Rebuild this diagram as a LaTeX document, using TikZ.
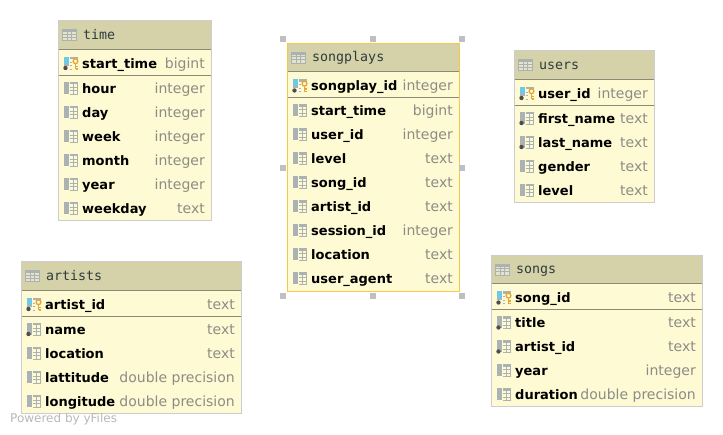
\documentclass[tikz,border=0pt]{standalone}
\usepackage{fontspec}
\setmainfont{DejaVu Sans}
\newfontfamily\titlefont{DejaVu Sans Mono}
\usepackage{tikz}
\definecolor{headbg}{RGB}{213,210,169}
\definecolor{bodybg}{RGB}{254,250,211}
\definecolor{rulegray}{RGB}{138,138,118}
\definecolor{edgegray}{RGB}{205,205,205}
\definecolor{edgegold}{RGB}{247,200,70}
\definecolor{typegray}{RGB}{140,140,135}
\definecolor{titleink}{RGB}{45,60,60}
\definecolor{barblue}{RGB}{110,200,232}
\definecolor{bargray}{RGB}{170,178,180}
\definecolor{keygold}{RGB}{232,165,50}

\tikzset{
  colname/.style={anchor=base west, inner sep=0pt, text=black, font=\bfseries\fontsize{13}{14}\selectfont},
  coltype/.style={anchor=base east, inner sep=0pt, text=typegray, font=\fontsize{14}{14}\selectfont},
  tabletitle/.style={anchor=base west, inner sep=0pt, text=titleink, font=\titlefont\fontsize{13.3}{14}\selectfont},
  handle/.style={fill=black!25, draw=none},
  colicon/.pic={
    \fill[bargray] (0,-6) rectangle (4.7,6);
    \fill[bargray] (5.5,-6) rectangle (13.5,-3.5);
    \draw[bargray, line width=0.6pt] (13.5,-3.5) -- (13.5,6) -- (5.5,6)
      (5.5,-1) -- (13.5,-1) (5.5,2.5) -- (13.5,2.5) (9.5,-3.5) -- (9.5,6);
  },
  keyicon/.pic={
    \fill[barblue] (0,-6) rectangle (4.7,1);
    \fill[bargray] (0,1) rectangle (4.7,3);
    \fill[bargray] (5.5,-6) rectangle (13.5,-3.5);
    \draw[bargray, line width=0.6pt] (5.5,-1) -- (8,-1) (5.5,2.5) -- (8,2.5) (5.5,6) -- (8,6);
    \draw[keygold, line width=1.3pt] (11.5,-1.8) circle (2.4);
    \draw[keygold, line width=1.4pt] (11.5,0.6) -- (11.5,6.5) (11.5,3.5) -- (13.5,3.5) (11.5,6) -- (13.5,6);
    \fill[black!70] (1.5,5) circle (2.2);
  },
  gridicon/.pic={
    \fill[bodybg!70!bargray] (0,-5.5) rectangle (14,5.5);
    \fill[bargray] (0,-5.5) rectangle (14,-2.5);
    \draw[bargray, line width=0.7pt] (0,-5.5) rectangle (14,5.5)
      (0,-1) -- (14,-1) (0,2.2) -- (14,2.2)
      (4.7,-5.5) -- (4.7,5.5) (9.3,-5.5) -- (9.3,5.5);
  }
}

% table: name, left, top, right, bottom, edge colour, title, key column, key type, other columns
\newcommand{\dbtable}[9]{%
  \filldraw[fill=bodybg, draw=#6, line width=1pt] (#2,#3) rectangle (#4,#5);
  \fill[headbg] (#2+0.5,#3+0.5) rectangle (#4-0.5,#3+28);
  \draw[rulegray, line width=0.9pt] (#2+0.5,#3+28) -- (#4-0.5,#3+28);
  \draw[rulegray, line width=0.9pt] (#2+0.5,#3+54) -- (#4-0.5,#3+54);
  \pic at (#2+4.5,#3+14) {gridicon};
  \node[tabletitle] (#1-title) at (#2+25,#3+18.5) {#7};
  \pic at (#2+6,#3+42) {keyicon};
  \node[colname] (#1-key) at (#2+24,#3+47.5) {#8};
  \node[coltype] (#1-keytype) at (#4-6,#3+47.5) {#9};
  \dbrows{#1}{#2}{#3}{#4}%
}
\newcommand{\dbrows}[5]{%
  \foreach \colname/\coltype/\notnull [count=\n from 0] in {#5} {
    \pgfmathsetmacro{\rowy}{#3+67+24*\n}
    \pic at (#2+6,\rowy) {colicon};
    \ifnum\notnull=1 \fill[black!70] (#2+7.5,\rowy+5) circle (2.2); \fi
    \node[colname] (#1-col\n) at (#2+24,\rowy+5.5) {\colname};
    \node[coltype] (#1-type\n) at (#4-6,\rowy+5.5) {\coltype};
  }
}

\begin{document}
\begin{tikzpicture}[x=1pt,y=-1pt]
\useasboundingbox (0,0) rectangle (723,435);

% --- time ---
\dbtable{time}{58}{21}{211}{221}{edgegray}{time}{start\_time}{bigint}{%
  hour/integer/0, day/integer/0, week/integer/0, month/integer/0, year/integer/0, weekday/text/0}

% --- songplays (selected) ---
\dbtable{songplays}{287}{43.5}{459}{291.5}{edgegold}{songplays}{songplay\_id}{integer}{%
  start\_time/bigint/0, user\_id/integer/0, level/text/0, song\_id/text/0, artist\_id/text/0,
  session\_id/integer/0, location/text/0, user\_agent/text/0}

% selection handles
\foreach \hx in {283,372.5,462} {
  \foreach \hy in {39,296.5} {
    \fill[handle] (\hx-3,\hy-3) rectangle (\hx+3,\hy+3);
  }
}
\foreach \hx in {283,462} {
  \fill[handle] (\hx-3,165) rectangle (\hx+3,171);
}

% --- users ---
\dbtable{users}{514}{51}{654}{203}{edgegray}{users}{user\_id}{integer}{%
  first\_name/text/1, last\_name/text/1, gender/text/0, level/text/0}

% --- artists ---
\dbtable{artists}{21}{262}{241}{414}{edgegray}{artists}{artist\_id}{text}{%
  name/text/1, location/text/0, lattitude/double precision/0, longitude/double precision/0}

% --- songs ---
\dbtable{songs}{491}{255.5}{702}{407}{edgegray}{songs}{song\_id}{text}{%
  title/text/1, artist\_id/text/1, year/integer/0, duration/double precision/0}

\node[anchor=base west, inner sep=0pt, text=black!28, font=\fontsize{12}{12}\selectfont] (powered) at (10,423) {Powered by yFiles};

\end{tikzpicture}
\end{document}
